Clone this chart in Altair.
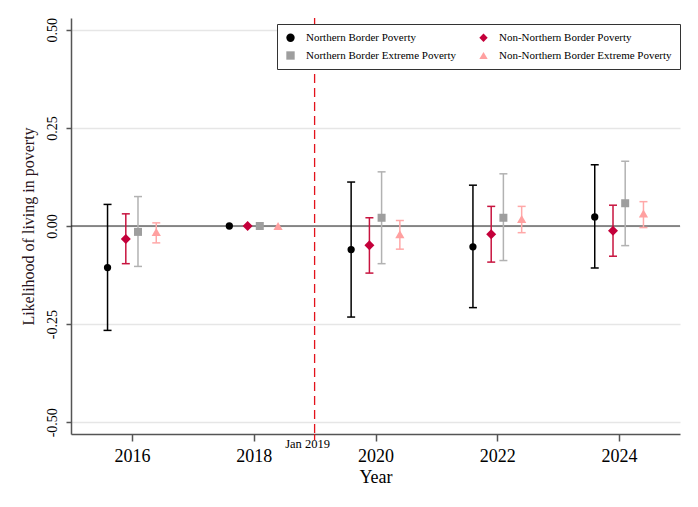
import altair as alt
import pandas as pd

# ---------------- data ----------------
years = [2016, 2018, 2020, 2022, 2024]

series_names = [
    "Northern Border Poverty",
    "Non-Northern Border Poverty",
    "Northern Border Extreme Poverty",
    "Non-Northern Border Extreme Poverty",
]

nbp_est = [-0.106, 0.0, -0.060, -0.053, 0.023]
nbp_lo = [-0.266, 0.0, -0.232, -0.208, -0.107]
nbp_hi = [0.055, 0.0, 0.112, 0.104, 0.156]

nnbp_est = [-0.033, 0.0, -0.049, -0.021, -0.012]
nnbp_lo = [-0.096, 0.0, -0.120, -0.092, -0.077]
nnbp_hi = [0.031, 0.0, 0.021, 0.050, 0.053]

nbep_est = [-0.015, 0.0, 0.021, 0.021, 0.058]
nbep_lo = [-0.103, 0.0, -0.096, -0.088, -0.050]
nbep_hi = [0.075, 0.0, 0.138, 0.133, 0.165]

nnbep_est = [-0.015, 0.0, -0.021, 0.018, 0.032]
nnbep_lo = [-0.043, 0.0, -0.059, -0.017, -0.004]
nnbep_hi = [0.008, 0.0, 0.014, 0.050, 0.062]

y_ticks = [-0.5, -0.25, 0.0, 0.25, 0.5]
event_year = [2019]
event_label = ["Jan 2019"]

# ---------------- styles ----------------
FONT = "Liberation Serif"
offsets = [-0.4, -0.1, 0.1, 0.4]
point_colors = ["#000000", "#c4003a", "#9e9e9e", "#ffa0a0"]
ci_colors = ["#000000", "#c8143f", "#b2b2b2", "#ffa8a8"]
shapes = ["circle", "diamond", "square", "triangle-up"]
sizes = [53, 100, 64, 85]
RED = "#e3121b"

W, H = 609, 416

rows = []
for idx, (name, est, lo, hi) in enumerate(zip(
    series_names,
    [nbp_est, nnbp_est, nbep_est, nnbep_est],
    [nbp_lo, nnbp_lo, nbep_lo, nnbep_lo],
    [nbp_hi, nnbp_hi, nbep_hi, nnbep_hi],
)):
    for yr, e, l, h in zip(years, est, lo, hi):
        rows.append({"series": name, "idx": idx, "year": yr, "est": e, "lo": l, "hi": h})
df = pd.DataFrame(rows)
df["xpos"] = df["year"] + df["idx"].map(lambda i: offsets[i])
ci_df = df[df["hi"] > df["lo"]].drop(columns=["series"])

event_df = pd.DataFrame({"x": event_year, "label": event_label})
zero_df = pd.DataFrame({"y0": [0.0]})

x_scale = alt.Scale(domain=[2015, 2025], nice=False, zero=False)
y_scale = alt.Scale(domain=[-0.53, 0.53], nice=False, zero=False)

x_axis = alt.Axis(
    values=years, format="d", title="Year", grid=False,
    labelFontSize=18, labelPadding=6,
    tickSize=7, titleFontSize=18, titlePadding=3,
)
y_axis = alt.Axis(
    values=y_ticks, title="Likelihood of living in poverty",
    labelExpr="datum.value < 0 ? '-' + format(-datum.value, '.2f') : format(datum.value, '.2f')",
    labelAngle=270, labelAlign="center", labelBaseline="bottom",
    labelFontSize=14, labelPadding=7,
    tickSize=5,
    grid=True, gridColor="#e6e6e6", gridWidth=1.5,
    titleFontSize=16, titleColor="#2a1420", titlePadding=9,
)

zero_line = alt.Chart(zero_df).mark_rule(color="#222", strokeWidth=1.2).encode(
    y=alt.Y("y0:Q", scale=y_scale, axis=y_axis)
)

event_line = alt.Chart(event_df).mark_rule(
    color=RED, strokeDash=[9, 5], strokeWidth=1.3
).encode(x=alt.X("x:Q", scale=x_scale, axis=x_axis))

event_tick = alt.Chart(event_df).mark_rule(color=RED, strokeWidth=1.3).encode(
    x=alt.X("x:Q", scale=x_scale), y=alt.value(H), y2=alt.value(H + 6)
)

event_text = alt.Chart(event_df).mark_text(
    font=FONT, fontSize=12.5, color="#000", dx=-7, baseline="middle"
).encode(x=alt.X("x:Q", scale=x_scale), y=alt.value(H + 10), text="label:N")

ci_stroke = alt.Stroke(
    "idx:N", scale=alt.Scale(domain=[0, 1, 2, 3], range=ci_colors), legend=None
)

ci_rule = alt.Chart(ci_df).mark_rule(strokeWidth=1.5).encode(
    x=alt.X("xpos:Q", scale=x_scale),
    y=alt.Y("lo:Q", scale=y_scale),
    y2="hi:Q",
    stroke=ci_stroke,
)
cap_lo = alt.Chart(ci_df).mark_point(shape="stroke", size=64, strokeWidth=1.5, opacity=1, filled=False).encode(
    x=alt.X("xpos:Q", scale=x_scale), y=alt.Y("lo:Q", scale=y_scale), stroke=ci_stroke
)
cap_hi = alt.Chart(ci_df).mark_point(shape="stroke", size=64, strokeWidth=1.5, opacity=1, filled=False).encode(
    x=alt.X("xpos:Q", scale=x_scale), y=alt.Y("hi:Q", scale=y_scale), stroke=ci_stroke
)

points = alt.Chart(df).mark_point(filled=True, opacity=1, strokeWidth=0).encode(
    x=alt.X("xpos:Q", scale=x_scale),
    y=alt.Y("est:Q", scale=y_scale),
    color=alt.Color("series:N", scale=alt.Scale(domain=series_names, range=point_colors),
                    legend=alt.Legend(title=None)),
    shape=alt.Shape("series:N", scale=alt.Scale(domain=series_names, range=shapes),
                    legend=alt.Legend(title=None)),
    size=alt.Size("idx:Q", scale=alt.Scale(type="threshold", domain=[0.5, 1.5, 2.5], range=sizes),
                  legend=None),
)

chart = (
    alt.layer(zero_line, event_line, event_tick, event_text, ci_rule, cap_lo, cap_hi, points)
    .properties(
        width=W, height=H,
        autosize=alt.AutoSizeParams(type="none"),
        padding={"left": 63, "top": 10, "right": 10, "bottom": 60},
        background="#ffffff",
    )
    .configure_view(strokeWidth=0)
    .configure_axis(
        labelFont=FONT, titleFont=FONT, labelColor="#000", titleColor="#000",
        titleFontWeight="normal", tickColor="#555", domainColor="#555",
        domainWidth=1.5, tickWidth=1.5,
    )
    .configure_legend(
        orient="none", legendX=206, legendY=6, columns=2, direction="horizontal",
        fillColor="#ffffff", strokeColor="#333333", padding=8,
        columnPadding=22, rowPadding=6,
        labelFont=FONT, labelFontSize=11, labelColor="#000", labelLimit=400,
        labelOffset=10, symbolSize=70, symbolStrokeWidth=0, symbolOpacity=1,
    )
)

chart.save("out.html", embed_options={"renderer": "svg", "actions": False})
